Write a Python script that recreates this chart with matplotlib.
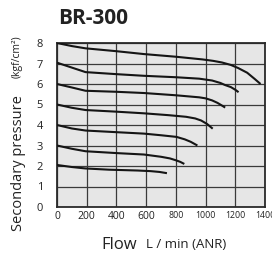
import matplotlib
matplotlib.use("Agg")
import matplotlib.pyplot as plt

plt.rcParams['font.family'] = ['Open Sans', 'DejaVu Sans']

title = "BR-300"
x_ticks = [0, 200, 400, 600, 800, 1000, 1200, 1400]
y_ticks = [0, 1, 2, 3, 4, 5, 6, 7, 8]

flow_8 = [0, 100, 192, 400, 585, 800, 978, 1050, 1110, 1170, 1219, 1280, 1330, 1370]
pres_8 = [8.0, 7.85, 7.74, 7.6, 7.46, 7.33, 7.2, 7.13, 7.05, 6.93, 6.78, 6.55, 6.25, 6.0]

flow_7 = [0, 100, 192, 400, 585, 800, 957, 1044, 1100, 1131, 1170, 1200, 1222]
pres_7 = [7.04, 6.8, 6.58, 6.48, 6.4, 6.33, 6.26, 6.17, 6.05, 5.95, 5.85, 5.72, 5.6]

flow_6 = [0, 100, 192, 400, 585, 800, 957, 1000, 1044, 1080, 1110, 1132]
pres_6 = [6.0, 5.83, 5.67, 5.62, 5.56, 5.45, 5.35, 5.3, 5.2, 5.08, 4.95, 4.85]

flow_5 = [0, 100, 192, 400, 585, 750, 869, 930, 970, 1010, 1048]
pres_5 = [5.0, 4.84, 4.73, 4.65, 4.57, 4.48, 4.4, 4.32, 4.22, 4.05, 3.82]

flow_4 = [0, 100, 192, 400, 585, 700, 804, 860, 900, 945]
pres_4 = [4.0, 3.83, 3.73, 3.65, 3.58, 3.5, 3.42, 3.3, 3.18, 3.0]

flow_3 = [0, 100, 192, 400, 585, 700, 760, 800, 830, 857]
pres_3 = [3.0, 2.84, 2.72, 2.63, 2.56, 2.45, 2.37, 2.28, 2.2, 2.1]

flow_2 = [0, 100, 192, 350, 541, 630, 690, 740]
pres_2 = [2.05, 1.95, 1.88, 1.82, 1.78, 1.75, 1.71, 1.65]

curves = [(flow_8, pres_8), (flow_7, pres_7), (flow_6, pres_6), (flow_5, pres_5),
          (flow_4, pres_4), (flow_3, pres_3), (flow_2, pres_2)]

fig = plt.figure(figsize=(2.72, 2.56), dpi=100)
ax = fig.add_axes([57/272, 1-207/256, (265-57)/272, (207-43)/256])
ax.set_facecolor('#e6e6e6')

for fx, py in curves:
    ax.plot(fx, py, color='#151515', lw=1.5, solid_capstyle='butt', zorder=3)

ax.set_xlim(0, 1400)
ax.set_ylim(0, 8)
ax.set_xticks(x_ticks)
ax.set_yticks(y_ticks)
ax.grid(True, color='#3a3a3a', lw=0.9, zorder=1)
ax.set_axisbelow(True)
for s in ax.spines.values():
    s.set_color('#2a2a2a')
    s.set_linewidth(1.3)
ax.tick_params(length=0, pad=3)
ax.set_xticklabels([str(v) for v in x_ticks])
for i, lab in enumerate(ax.get_xticklabels()):
    lab.set_fontsize(7.5 if i < 4 else 6.3)
    lab.set_color('#222222')
for lab in ax.get_yticklabels():
    lab.set_fontsize(8)
    lab.set_color('#222222')
ax.tick_params(axis='y', pad=10)

fig.text(58/272, 1-19/256, title, fontsize=15, fontweight='bold', ha='left', va='center', color='#222222')

fig.text(101/272, 1-245/256, "Flow", fontsize=12, ha='left', va='center', color='#222222')
fig.text(146/272, 1-245/256, "L / min (ANR)", fontsize=9.5, ha='left', va='center', color='#222222')

fig.text(19/272, 1-231/256, "Secondary pressure", fontsize=10.5, rotation=90, ha='center', va='bottom', color='#222222')
fig.text(17/272, 1-78/256, "(kgf/cm²)", fontsize=7.5, rotation=90, ha='center', va='bottom', color='#222222')

fig.savefig("out.png", dpi=100)
